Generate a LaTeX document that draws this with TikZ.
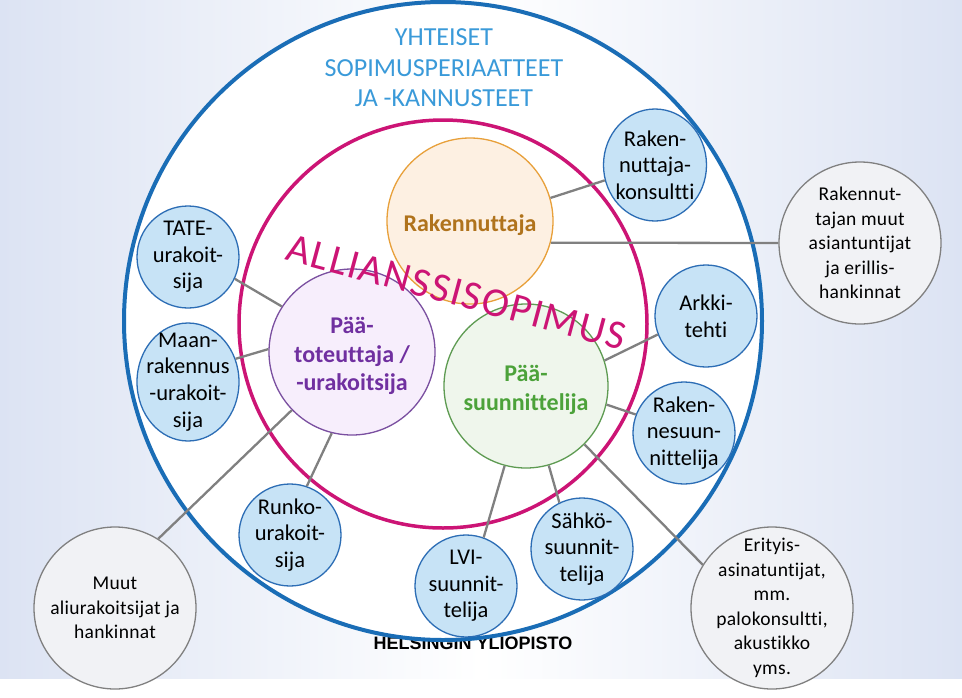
\documentclass[tikz,border=0pt]{standalone}
\usepackage{fontspec}
\setmainfont{Carlito}[Ligatures=NoCommon]
\newfontfamily\yliopistoFont{Liberation Sans}
\newfontfamily\harvaFont[LetterSpace=1.5, Ligatures=NoCommon]{Carlito}
\newfontfamily\alliFont[LetterSpace=4]{Carlito}
\usepackage{xcolor}
\definecolor{taustaSini}{HTML}{DCE3F3}
\definecolor{ulkoSini}{HTML}{1A6DB6}
\definecolor{otsikkoSini}{HTML}{3A9AD9}
\definecolor{alliMagenta}{HTML}{CC1475}
\definecolor{rakReuna}{HTML}{E8A03A}
\definecolor{rakTayte}{HTML}{FDF0E2}
\definecolor{rakTeksti}{HTML}{B0731C}
\definecolor{totReuna}{HTML}{7A4FA0}
\definecolor{totTayte}{HTML}{F7EEFC}
\definecolor{totTeksti}{HTML}{7030A0}
\definecolor{suuReuna}{HTML}{5E9B52}
\definecolor{suuTayte}{HTML}{EFF6EC}
\definecolor{suuTeksti}{HTML}{4CA23A}
\definecolor{pieniReuna}{HTML}{2C6DB5}
\definecolor{pieniTayte}{HTML}{C7E3F6}
\definecolor{harmaaReuna}{HTML}{808080}
\definecolor{harmaaTayte}{HTML}{F1F2F5}
\definecolor{viivaHarmaa}{HTML}{808080}
\usetikzlibrary{shapes.geometric}
\tikzset{
  %% ── Ympyrät ──────────────────────────────────────────────────────────
  %% The text sits in a centre label, so long words never push a ring
  %% wider than the size it is given.
  pallo/.style       = {ellipse, inner sep=0pt, line width=1.3pt},
  rengas/.style      = {circle, inner sep=0pt},
  palloSin/.style    = {pallo, draw=pieniReuna, fill=pieniTayte,
                        minimum width=102pt, minimum height=102pt,
                        label={[tekstiSin]center:{#1}}},
  palloHarmaa/.style = {pallo, draw=harmaaReuna, fill=harmaaTayte,
                        minimum width=162pt, minimum height=162pt,
                        label={[tekstiHarmaa]center:{#1}}},
  palloIso/.style    = {pallo, minimum width=166pt, minimum height=166pt},
  %%
  %% ── Tekstit ──────────────────────────────────────────────────────────
  teksti/.style      = {align=center, inner sep=0pt},
  tekstiSin/.style   = {teksti, font=\fontsize{22.5}{26.7}\selectfont},
  tekstiHarmaa/.style= {teksti, font=\harvaFont\fontsize{19.5}{24.5}\selectfont},
  tekstiIso/.style   = {teksti, font=\bfseries\fontsize{24}{28.5}\selectfont,
                        yshift=-4pt},
  otsikko/.style     = {teksti, text=otsikkoSini,
                        font=\fontsize{26}{30.5}\selectfont},
  alliTeksti/.style  = {inner sep=0pt, text=alliMagenta,
                        font=\alliFont\fontsize{41}{44}\selectfont},
  %%
  %% ── Viivat ───────────────────────────────────────────────────────────
  viiva/.style       = {draw=viivaHarmaa, line width=2.3pt},
}

\begin{document}
\begin{tikzpicture}[x=1pt, y=-1pt]
\useasboundingbox (0,0) rectangle (962,697);
\shade[left color=taustaSini, right color=taustaSini, middle color=white]
  (0,0) rectangle (962,678);

\node[font=\yliopistoFont\bfseries\fontsize{18}{20}\selectfont, anchor=base]
  (yliopisto) at (473,649) {HELSINGIN YLIOPISTO};

\node[rengas, draw=ulkoSini, fill=white, line width=4pt, minimum size=638pt]
  (ulko) at (443,321) {};
\node[otsikko] (yhteiset) at (444,68) {YHTEISET\\SOPIMUSPERIAATTEET\\JA -KANNUSTEET};
\node[rengas, draw=alliMagenta, line width=3.5pt, minimum size=408pt]
  (allianssi) at (443,324) {};

\node[palloIso, draw=rakReuna, fill=rakTayte,
      label={[tekstiIso, text=rakTeksti]center:Rakennuttaja}] (rak) at (470,221) {};
\node[palloIso, draw=totReuna, fill=totTayte,
      label={[tekstiIso, text=totTeksti]center:{Pää-\\toteuttaja /\\-urakoitsija}}]
  (tot) at (352,352) {};
\node[palloIso, draw=suuReuna, fill=suuTayte, minimum width=164pt, minimum height=164pt,
      label={[tekstiIso, text=suuTeksti]center:{Pää-\\suunnittelija}}]
  (suun) at (526,386) {};

\node[palloSin={Raken-\\nuttaja-\\konsultti}, minimum width=103pt, minimum height=112pt]
  (konsultti) at (655,165) {};
\node[palloSin={TATE-\\urakoit-\\sija}] (tate) at (188,257) {};
\node[palloSin={Maan-\\rakennus\\-urakoit-\\sija}, minimum height=118pt] (maan) at (188,382) {};
\node[palloSin={Runko-\\urakoit-\\sija}] (runko) at (290,535) {};
\node[palloSin={LVI-\\suunnit-\\telija}] (lvi) at (466,586) {};
\node[palloSin={Sähkö-\\suunnit-\\telija}] (sahko) at (582,549) {};
\node[palloSin={Raken-\\nesuun-\\nittelija}] (rakennesuun) at (684,433) {};
\node[palloSin={Arkki-\\tehti}] (arkki) at (706,316) {};

\node[palloHarmaa={Rakennut-\\tajan muut\\asiantuntijat\\ja erillis-\\hankinnat}]
  (rmuut) at (860,243) {};
\node[palloHarmaa={Muut\\aliurakoitsijat ja\\hankinnat}] (muut) at (115,608) {};
\node[palloHarmaa={Erityis-\\asinatuntijat,\\mm.\\palokonsultti,\\akustikko\\yms.}]
  (erityis) at (772,608) {};

\draw[viiva] (rak.16) -- (konsultti.197);
\draw[viiva] (rak.-15) -- (rmuut.west);
\draw[viiva] (tot.147) -- (tate.-25);
\draw[viiva] (tot.178) -- (maan.26);
\draw[viiva] (tot.-136) -- (muut.58);
\draw[viiva] (tot.-104) -- (runko.71);
\draw[viiva] (suun.18) -- (arkki.201);
\draw[viiva] (suun.-13) -- (rakennesuun.159);
\draw[viiva] (suun.-45) -- (erityis.148);
\draw[viiva] (suun.-74) -- (sahko.116);
\draw[viiva] (suun.-105) -- (lvi.70);

\node[alliTeksti, anchor=base, rotate=-15] (sopimus) at (453,305) {ALLIANSSISOPIMUS};

\end{tikzpicture}
\end{document}
